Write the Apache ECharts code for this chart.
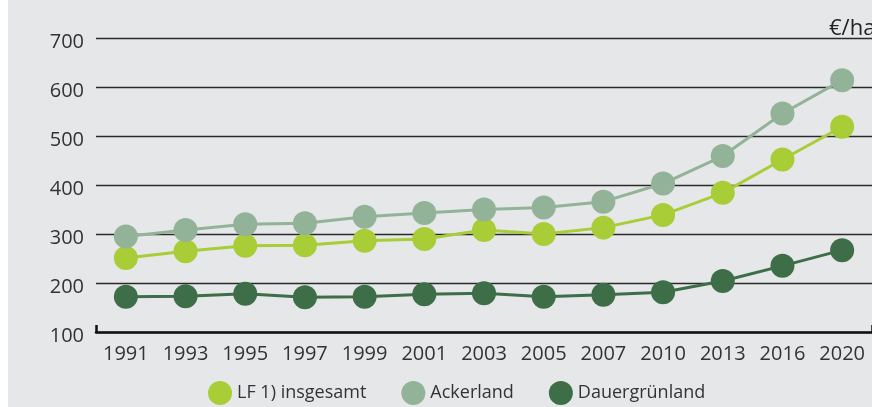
<!DOCTYPE html>
<html>
<head>
<meta charset="utf-8">
<script src="https://cdn.jsdelivr.net/npm/echarts@6/dist/echarts.min.js"></script>
<style>
html,body{margin:0;padding:0;background:#ffffff;}
#chart{position:absolute;left:8px;top:0;width:864px;height:407px;background:#e6e7e9;}
</style>
</head>
<body>
<div id="chart"></div>
<script>
const categories = ['1991','1993','1995','1997','1999','2001','2003','2005','2007','2010','2013','2016','2020'];
const lfInsgesamt = [251, 265, 276, 277, 286, 290, 308, 300, 313, 339, 384, 452, 519];
const ackerland   = [295, 308, 320, 322, 335, 343, 350, 354, 366, 403, 459, 546, 614];
const dauergruenland = [172, 173, 178, 171, 172, 177, 179, 172, 176, 181, 204, 235, 267];
const seriesNames = ['LF 1) insgesamt', 'Ackerland', 'Dauergrünland'];
const unitLabel = '€/ha';
const yTicks = [100, 200, 300, 400, 500, 600, 700];

const colors = ['#a8cd37', '#93b398', '#3d6e47'];
const font = 'Open Sans';

const chart = echarts.init(document.getElementById('chart'), null, {renderer: 'canvas'});
const mk = (name, data, color) => ({
  name, type: 'line', data,
  symbol: 'circle', symbolSize: 24,
  itemStyle: {color},
  lineStyle: {color, width: 3},
  emphasis: {disabled: true},
  animation: false
});
chart.setOption({
  animation: false,
  backgroundColor: 'transparent',
  title: {
    text: unitLabel, left: 821, top: 18, padding: 0,
    textStyle: {fontFamily: font, fontSize: 22, fontWeight: 'normal', color: '#222'}
  },
  grid: {left: 88, top: 38, width: 785, height: 294},
  legend: {
    left: 200, top: 381, itemWidth: 24, itemHeight: 24, itemGap: 35, padding: 0,
    icon: 'circle',
    data: seriesNames,
    textStyle: {fontFamily: font, fontSize: 18, color: '#333'}
  },
  xAxis: {
    type: 'category', data: categories, boundaryGap: true,
    axisLine: {show: true, lineStyle: {color: '#111', width: 2.5}},
    axisTick: {show: true, inside: true, length: 7, interval: (i) => i === 0, lineStyle: {color: '#111', width: 2.5}},
    axisLabel: {fontFamily: font, fontSize: 20, color: '#333', margin: 12},
    splitLine: {show: false}
  },
  yAxis: {
    type: 'value', min: 100, max: 700, interval: 100,
    axisLine: {show: false}, axisTick: {show: false},
    axisLabel: {fontFamily: font, fontSize: 20, color: '#333', margin: 12,
      verticalAlign: 'top', lineHeight: 8,
      formatter: (v) => yTicks.includes(v) ? String(v) : ''},
    splitLine: {show: true, lineStyle: {color: '#2a2a2a', width: 1.3}}
  },
  series: [
    mk(seriesNames[0], lfInsgesamt, colors[0]),
    mk(seriesNames[1], ackerland, colors[1]),
    mk(seriesNames[2], dauergruenland, colors[2])
  ]
});
</script>
</body>
</html>
